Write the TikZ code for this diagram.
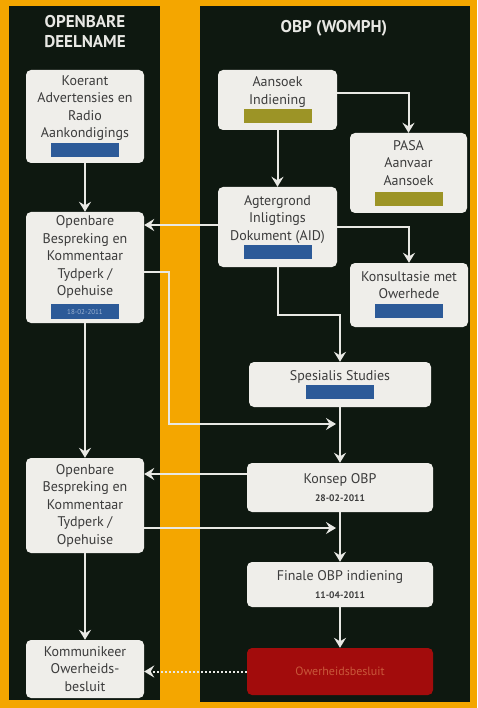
\documentclass[tikz,border=0pt]{standalone}
\usepackage{fontspec}
\setmainfont{PT Sans}
\usetikzlibrary{arrows.meta}

\definecolor{bgorange}{HTML}{F4A600}
\definecolor{panel}{HTML}{0E1810}
\definecolor{boxfill}{HTML}{EFEEEA}
\definecolor{boxtext}{HTML}{3C3C3C}
\definecolor{barblue}{HTML}{2C5A98}
\definecolor{barolive}{HTML}{9C9426}
\definecolor{bardate}{HTML}{9DB3D3}
\definecolor{redbox}{HTML}{A20C0C}
\definecolor{redtext}{HTML}{C9583A}
\definecolor{wire}{HTML}{E8E8E4}

\newcommand{\colbar}[1]{\textcolor{#1}{\rule{68pt}{14pt}}}
\newcommand{\datesmall}[1]{{\bfseries\fontsize{9.5}{11}\selectfont #1}}

\tikzset{
  box/.style={fill=boxfill, rounded corners=5pt, align=center, text=boxtext,
    font=\fontsize{14}{17.5}\selectfont, inner sep=0pt},
  decision/.style={box, fill=redbox, text=redtext, font=\fontsize{12}{15}\selectfont},
  paneltitle/.style={text=wire, font=\bfseries\fontsize{17}{20}\selectfont, align=center},
  flow/.style={draw=wire, line width=2pt, -{Stealth[length=10pt,width=12pt,inset=3.5pt]}},
}

\begin{document}
\begin{tikzpicture}[x=1pt, y=-1pt]
  % Background and the two columns:
  \fill[bgorange] (0,0) rectangle (477,708);
  \fill[panel] (9,6) rectangle (160,700);
  \fill[panel] (200,6) rectangle (470,702);
  \node[paneltitle] (tleft) at (85,32) {OPENBARE\\DEELNAME};
  \node[paneltitle] (tright) at (334,28) {OBP (WOMPH)};

  % Openbare deelname:
  \node[box, minimum width=118pt, minimum height=93pt] (koerant) at (85,116.5)
    {Koerant\\Advertensies en\\Radio\\Aankondigings\\[2pt]\colbar{barblue}};
  \node[box, minimum width=118pt, minimum height=111pt] (open1) at (85,267.5)
    {Openbare\\Bespreking en\\Kommentaar\\Tydperk /\\Opehuise\\[1pt]%
     {\fboxsep=2.5pt\colorbox{barblue}{\makebox[63pt]{\rule[-2pt]{0pt}{10pt}%
      \color{bardate}\fontsize{7}{8}\selectfont 18-02-2011}}}};
  \node[box, minimum width=118pt, minimum height=95pt] (open2) at (85,505.5)
    {Openbare\\Bespreking en\\Kommentaar\\Tydperk /\\Opehuise};
  \node[box, minimum width=118pt, minimum height=58pt] (kommunikeer) at (85,669)
    {Kommunikeer\\Owerheids-\\besluit};

  % OBP (WOMPH):
  \node[box, minimum width=119pt, minimum height=60pt] (aansoek) at (277.5,100)
    {Aansoek\\Indiening\\[1pt]\colbar{barolive}};
  \node[box, minimum width=117pt, minimum height=80pt] (pasa) at (408.5,173)
    {PASA\\Aanvaar\\Aansoek\\[3pt]\colbar{barolive}};
  \node[box, minimum width=119pt, minimum height=80pt] (aid) at (277.5,227)
    {Agtergrond\\Inligtings\\Dokument (AID)\\[1pt]\colbar{barblue}};
  \node[box, minimum width=118pt, minimum height=64pt] (konsult) at (409,295)
    {Konsultasie met\\Owerhede\\[2pt]\colbar{barblue}};
  \node[box, minimum width=182pt, minimum height=45pt] (spesialis) at (340,384.5)
    {Spesialis Studies\\[1pt]\colbar{barblue}};
  \node[box, minimum width=186pt, minimum height=49pt] (konsep) at (340,487.5)
    {Konsep OBP\\\datesmall{28-02-2011}};
  \node[box, minimum width=186pt, minimum height=45pt] (finale) at (340,584.5)
    {Finale OBP indiening\\\datesmall{11-04-2011}};
  \node[decision, minimum width=186pt, minimum height=47pt] (besluit) at (340,671.5)
    {Owerheidsbesluit};
  \coordinate (jspes) at (340,424);
  \coordinate (jkons) at (340,528);

  % Connectors:
  \draw[flow] (koerant) -- (open1);
  \draw[flow] (open1) -- (open2);
  \draw[flow] (open2) -- (kommunikeer);
  \draw[flow] (aansoek) -- (aid);
  \draw[flow] ([yshift=7pt]aansoek.east) -| (pasa);
  \draw[flow] ([yshift=2pt]aid.west) -- ([yshift=2pt]aid.west -| open1.east);
  \draw[flow] (aid.east) -| (konsult);
  \draw[flow] (aid.south) -- ++(0,48) -| (spesialis.north);
  \draw[flow] ([yshift=-4.5pt]open1.east) -- ++(25,0) |- ([xshift=-4pt]jspes);
  \draw[flow] (spesialis) -- (konsep);
  \draw[flow] ([yshift=13.5pt]konsep.west) -- ([yshift=13.5pt]konsep.west -| open2.east);
  \draw[flow] ([yshift=-22.5pt]open2.east) -- ([xshift=-4pt]jkons);
  \draw[flow] (konsep) -- (finale);
  \draw[flow] (finale) -- (besluit);
  \draw[flow, dotted] (besluit.west) -- (besluit.west -| kommunikeer.east);
\end{tikzpicture}
\end{document}
